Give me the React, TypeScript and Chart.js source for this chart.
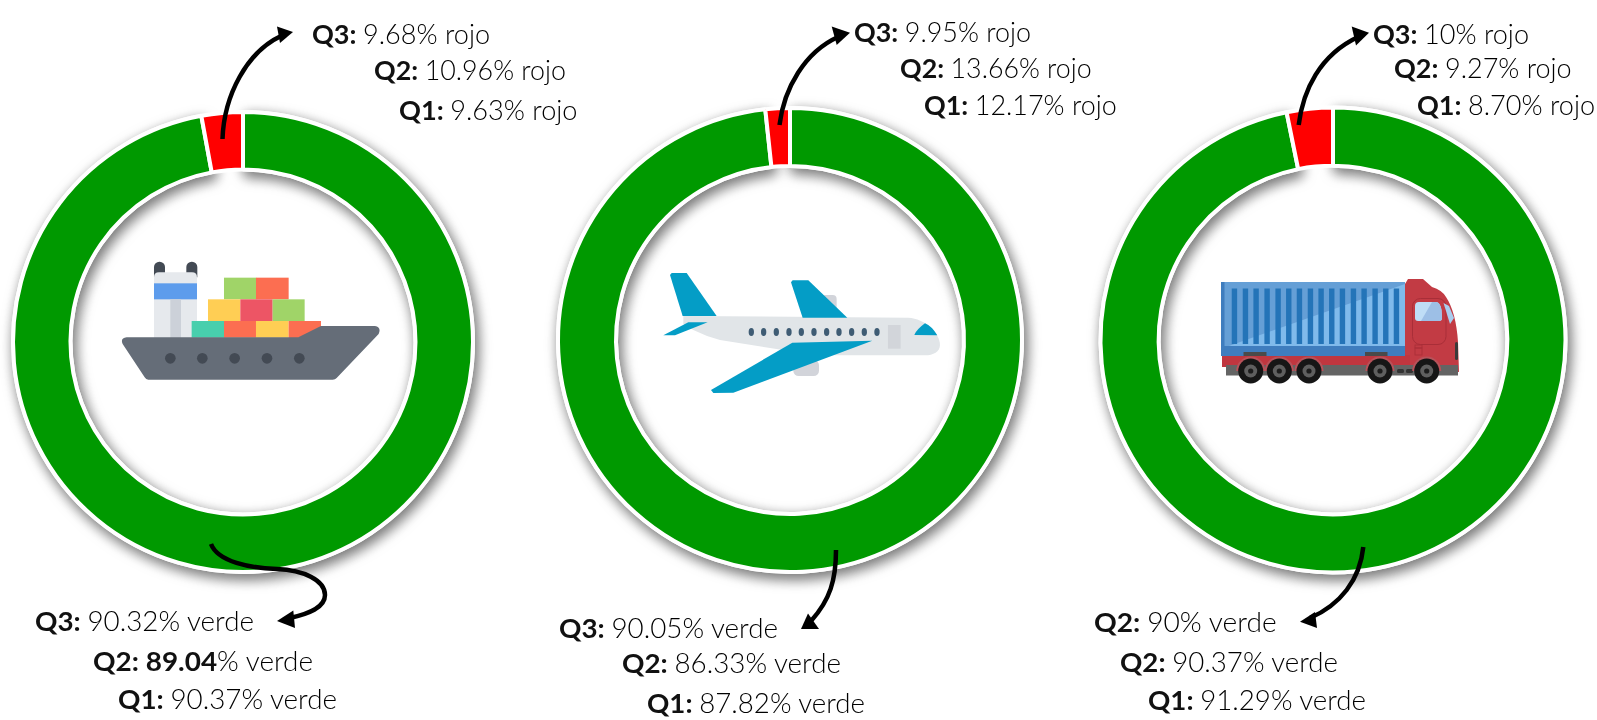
import React, { useEffect, useRef } from "react";
import { Chart, registerables } from "chart.js";

Chart.register(...registerables);

// ---------- data ----------
const sliceNames = ["verde", "rojo"];
const shipShares = [97.1, 2.9];
const planeShares = [98.3, 1.7];
const truckShares = [96.8, 3.2];

const shipRedQuarters = ["Q3:", "Q2:", "Q1:"];
const shipRedValues = ["9.68%", "10.96%", "9.63%"];
const shipGreenQuarters = ["Q3:", "Q2:", "Q1:"];
const shipGreenValues = ["90.32%", "89.04%", "90.37%"];
const planeRedQuarters = ["Q3:", "Q2:", "Q1:"];
const planeRedValues = ["9.95%", "13.66%", "12.17%"];
const planeGreenQuarters = ["Q3:", "Q2:", "Q1:"];
const planeGreenValues = ["90.05%", "86.33%", "87.82%"];
const truckRedQuarters = ["Q3:", "Q2:", "Q1:"];
const truckRedValues = ["10%", "9.27%", "8.70%"];
const truckGreenQuarters = ["Q2:", "Q2:", "Q1:"];
const truckGreenValues = ["90%", "90.37%", "91.29%"];

// ---------- layout ----------
const GREEN = "#009900";
const RED = "#ff0000";
const FONT = "Lato, sans-serif";
const CANVAS = 520;

const rings = [
  { shares: shipShares, cx: 243.4, cy: 341.5, r: 230 },
  { shares: planeShares, cx: 790.4, cy: 340, r: 232 },
  { shares: truckShares, cx: 1332.7, cy: 339.5, r: 232.5 },
];

type Row = [number, number, number];
const textBlocks: { q: string[]; v: string[]; word: string; rows: Row[] }[] = [
  { q: shipRedQuarters, v: shipRedValues, word: "rojo", rows: [[312, 44, 490], [374, 80, 566], [399, 120, 577.5]] },
  { q: shipGreenQuarters, v: shipGreenValues, word: "verde", rows: [[35, 631, 254], [93, 670.7, 313], [118, 709, 337]] },
  { q: planeRedQuarters, v: planeRedValues, word: "rojo", rows: [[854, 42, 1031], [900, 77.5, 1091.7], [924, 115, 1116.7]] },
  { q: planeGreenQuarters, v: planeGreenValues, word: "verde", rows: [[559, 638, 778], [622, 672.7, 841], [647, 712.7, 865]] },
  { q: truckRedQuarters, v: truckRedValues, word: "rojo", rows: [[1373, 44, 1529], [1394, 78, 1571.7], [1417, 115, 1595]] },
  { q: truckGreenQuarters, v: truckGreenValues, word: "verde", rows: [[1094, 631.7, 1276.7], [1120, 671.7, 1338], [1148, 710, 1366]] },
];
const boldNumbers = ["89.04"];

const arrows: { d: string; head: string }[] = [
  { d: "M222.5,139 C224,95 247,52 281,36", head: "293,32 277,26.5 280,43" },
  { d: "M779.5,125 C784,88 805,52 838,37", head: "850,32.7 831.7,26.5 836.7,45" },
  { d: "M1298.7,125 C1303,90 1320,55 1358,37", head: "1369,32.7 1351.7,26.5 1356,45.5" },
  { d: "M211,544 C218,562 250,568 277,569 C303,570 325,580 325,595 C325,608 308,614 290,618", head: "277,621 293.3,610.5 295,628" },
  { d: "M836,550 C836,580 830,600 811,621", head: "801,629 819,629 808,613.5" },
  { d: "M1363.3,547 C1360,580 1340,605 1310,618", head: "1300,621.7 1315,612 1317,628" },
];

// soft drop shadow under the green arc only
const shadowPlugin = {
  id: "ringShadow",
  beforeDatasetsDraw(chart: any) {
    const arc = chart.getDatasetMeta(0).data[0];
    if (!arc) return;
    const ctx = chart.ctx;
    ctx.save();
    ctx.shadowColor = "rgba(0,0,0,0.55)";
    ctx.shadowBlur = 13;
    ctx.shadowOffsetX = 3;
    ctx.shadowOffsetY = 5;
    arc.draw(ctx);
    ctx.restore();
  },
};

function Ring({ shares, cx, cy, r }: { shares: number[]; cx: number; cy: number; r: number }) {
  const ref = useRef<HTMLCanvasElement | null>(null);
  useEffect(() => {
    const chart = new Chart(ref.current as HTMLCanvasElement, {
      type: "doughnut",
      data: {
        labels: sliceNames,
        datasets: [
          {
            data: shares,
            backgroundColor: [GREEN, RED],
            borderColor: "#ffffff",
            borderWidth: 4,
          },
        ],
      },
      options: {
        responsive: false,
        animation: false,
        devicePixelRatio: 1,
        radius: r,
        cutout: "75%",
        layout: { padding: 0 },
        plugins: { legend: { display: false }, tooltip: { enabled: false } },
        events: [],
      },
      plugins: [shadowPlugin],
    } as any);
    return () => chart.destroy();
  }, []);
  return (
    <canvas
      ref={ref}
      width={CANVAS}
      height={CANVAS}
      style={{ position: "absolute", left: cx - CANVAS / 2, top: cy - CANVAS / 2, width: CANVAS, height: CANVAS }}
    />
  );
}

function Ship() {
  const ports = [211, 307, 404, 501, 598];
  return (
    <g transform="translate(100,240) scale(0.3333)">
      <rect x="162" y="65" width="33" height="60" rx="16" fill="#434A54" />
      <rect x="259" y="65" width="33" height="60" rx="16" fill="#434A54" />
      <path d="M162,295 V112 Q162,97 177,97 H276 Q291,97 291,112 V295 Z" fill="#E6E9ED" />
      <rect x="162" y="130" width="129" height="48" fill="#5D9CEC" />
      <rect x="211" y="178" width="32" height="117" fill="#CCD1D9" />
      <rect x="372" y="113" width="97" height="65" fill="#A0D468" />
      <rect x="468" y="113" width="98" height="65" fill="#FC6E51" />
      <rect x="324" y="178" width="97" height="65" fill="#FFCE54" />
      <rect x="421" y="178" width="97" height="65" fill="#ED5565" />
      <rect x="518" y="178" width="96" height="65" fill="#A0D468" />
      <rect x="275" y="243" width="97" height="50" fill="#48CFAD" />
      <rect x="372" y="243" width="96" height="50" fill="#FC6E51" />
      <rect x="468" y="243" width="98" height="50" fill="#FFCE54" />
      <polygon points="566,243 663,243 663,262 595,294 566,294" fill="#FC6E51" />
      <path
        d="M80,292 H595 L663,258 H825 Q845,262 836,282 L710,414 Q706,419 698,419 H145 Q138,419 134,412 L68,312 Q60,294 80,292 Z"
        fill="#656D78"
      />
      {ports.map((x) => (
        <circle key={x} cx={x} cy="355" r="16" fill="#434A54" />
      ))}
    </g>
  );
}

function Plane() {
  const windows = [364, 401, 439, 477, 514, 552, 590, 627, 665, 703, 741];
  const blue = "#049DC6";
  return (
    <g transform="translate(630,250) scale(0.3333)">
      <rect x="575" y="135" width="45" height="50" rx="12" fill="#D2D4DA" />
      <rect x="490" y="330" width="77" height="48" rx="16" fill="#D2D4DA" />
      <polygon points="120,75 125,69 170,69 260,198 158,198" fill={blue} />
      <path
        d="M160,198 L835,203 C885,205 930,250 930,285 C930,305 910,316 885,316 L560,316 L270,270 Q230,260 190,240 L160,222 Z"
        fill="#E1E5E8"
      />
      <polygon points="100,256 175,217 233,217 135,256" fill={blue} />
      <polygon points="483,97 488,91 535,91 652,203 518,203" fill={blue} />
      <polygon points="487,278 727,272 310,428 250,429 243,420" fill={blue} />
      {windows.map((x) => (
        <ellipse key={x} cx={x} cy="246" rx="8" ry="12" fill="#3F5C74" />
      ))}
      <rect x="774" y="225" width="38" height="71" fill="#D2D5DA" />
      <path d="M853,255 Q858,240 885,220 Q905,228 922,256 Z" fill={blue} />
    </g>
  );
}

function Truck() {
  const ribs = [163, 196, 228, 261, 294, 326, 358, 391, 423, 455, 487, 520, 552, 585, 617, 649];
  const wheels = [1250.7, 1279.3, 1309, 1380, 1426.7];
  return (
    <g>
      <path d="M1408,279 H1423 L1432,287 Q1442,290 1446,297 Q1456,312 1458,342 L1459,372 L1405,368 V284 Z" fill="#C23B44" />
      <rect x="1222" y="355" width="188" height="12" fill="#C0363F" />
      <rect x="1226" y="365" width="232" height="10.5" fill="#646464" />
      <rect x="1221" y="282" width="184" height="74" fill="#80BAEB" />
      <polygon points="1221,282 1405,282 1405,284 1226,347 1221,347" fill="#659FD6" />
      <rect x="1221" y="346" width="184" height="10" fill="#3F7DBE" />
      <rect x="1221" y="282" width="3.5" height="74" fill="#3F7DBE" />
      {ribs.map((x) => (
        <rect key={x} x={1180 + x / 3 - 2.6} y="288.5" width="5.4" height="55.5" fill="#2474B8" />
      ))}
      <rect x="1243.5" y="352" width="23" height="4" fill="#4A4A4A" />
      <rect x="1365" y="352" width="22.5" height="4" fill="#4A4A4A" />
      <rect x="1412.5" y="298.5" width="33.5" height="46" rx="8" fill="none" stroke="#A92E38" strokeWidth="1" />
      <path d="M1419,302 H1436 Q1440,302 1441.5,310 L1442,318 Q1442,321 1439,321 H1418 Q1415,321 1415,318 V306 Q1415,302 1419,302 Z" fill="#BFDDF6" />
      <path d="M1432,302 H1436 Q1440,302 1441.5,310 L1442,318 Q1442,321 1439,321 H1421 Z" fill="#9DBFE6" />
      <polygon points="1443.5,303 1449,306 1454,318 1450,324" fill="#A9CDEE" />
      <rect x="1415" y="345" width="7" height="3" fill="none" stroke="#A92E38" strokeWidth="0.8" />
      <rect x="1415" y="348" width="7" height="7" fill="none" stroke="#A92E38" strokeWidth="0.8" />
      <rect x="1455" y="342" width="3" height="18" rx="1.5" fill="#3A3A3A" />
      <rect x="1397" y="369" width="7" height="4" rx="1.5" fill="#333" />
      <rect x="1406" y="369" width="7" height="4" rx="1.5" fill="#333" />
      {wheels.map((x) => (
        <g key={x}>
          <path d={`M${x - 14.5},371 A14.5,14.5 0 0 1 ${x + 14.5},371 Z`} fill="#B7525A" />
          <circle cx={x} cy="371" r="12.5" fill="#161616" />
          <circle cx={x} cy="371" r="6.5" fill="#5f5f5f" />
          <circle cx={x} cy="371" r="2.6" fill="#1c1c1c" />
        </g>
      ))}
    </g>
  );
}

function Label({ q, v, word, row }: { q: string; v: string; word: string; row: Row }) {
  const [x, y, end] = row;
  const num = v.replace("%", "");
  const isBold = boldNumbers.includes(num);
  return (
    <text
      x={x}
      y={y}
      textLength={end - x}
      lengthAdjust="spacingAndGlyphs"
      fontFamily={FONT}
      fontSize={26.5}
      fill="#000000"
      style={{ whiteSpace: "pre" }}
    >
      <tspan fontWeight={700} fill="#111">{q} </tspan>
      {isBold ? <tspan fontWeight={700} fill="#111">{num}</tspan> : <tspan fontWeight={300}>{num}</tspan>}
      <tspan fontWeight={300}>{`% ${word}`}</tspan>
    </text>
  );
}

export default function App() {
  useEffect(() => {
    document.body.style.margin = "0";
    document.body.style.background = "#ffffff";
    document.documentElement.style.overflow = "hidden";
  }, []);
  return (
    <div style={{ position: "fixed", left: 0, top: 0, width: 1597, height: 720, overflow: "hidden", background: "#ffffff" }}>
      {rings.map((ring, i) => (
        <Ring key={i} {...ring} />
      ))}
      <svg width={1597} height={720} style={{ position: "absolute", left: 0, top: 0 }}>
        <Ship />
        <Plane />
        <Truck />
        {arrows.map((a, i) => (
          <g key={i}>
            <path d={a.d} fill="none" stroke="#000" strokeWidth={4.5} />
            <polygon points={a.head} fill="#000" />
          </g>
        ))}
        {textBlocks.map((b, i) =>
          b.rows.map((row, j) => <Label key={`${i}-${j}`} q={b.q[j]} v={b.v[j]} word={b.word} row={row} />)
        )}
      </svg>
    </div>
  );
}
